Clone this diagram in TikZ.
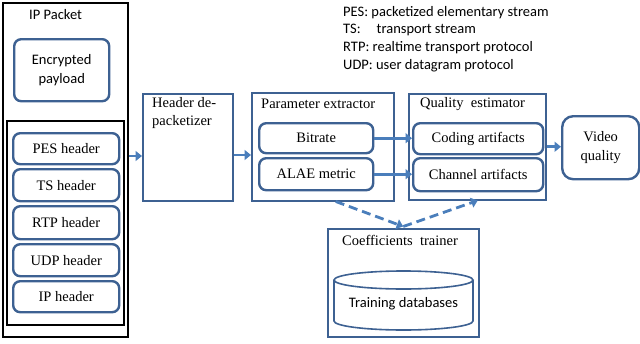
\documentclass[tikz,border=0pt]{standalone}
\usepackage{fontspec}
\setmainfont{Liberation Serif}
\newfontfamily\calib{Carlito}
\usetikzlibrary{arrows.meta}
\definecolor{bboxc}{HTML}{3D6192}
\definecolor{arrc}{HTML}{4A7EBB}
\begin{document}
\begin{tikzpicture}[x=1pt,y=-1pt,
  every node/.style={font=\fontsize{14.5}{17.6}\selectfont},
  blk/.style={draw=black, anchor=north west, inner sep=0pt},
  rbox/.style={draw=bboxc, line width=2.4pt, rounded corners=7pt, anchor=north west, inner sep=0pt, align=center},
  sbox/.style={draw=bboxc, line width=1.5pt, anchor=north west, inner sep=0pt},
  ttl/.style={anchor=west, inner sep=0pt, align=left},
  arr/.style={draw=arrc, line width=2.8pt, -{Triangle[length=6.5pt,width=10pt]}},
  darr/.style={draw=arrc, line width=2.8pt, dash pattern=on 9pt off 5pt, -{Triangle[length=6.5pt,width=10pt]}}]
\useasboundingbox (0,0) rectangle (640,343);
% IP packet
\node[blk, line width=1.5pt, minimum width=125pt, minimum height=334pt] (ippkt) at (2,2) {};
\node[anchor=west, inner sep=0pt, font=\calib\fontsize{14.5}{17.6}\selectfont] (ipttl) at (29,15) {IP Packet};
\node[rbox, minimum width=95pt, minimum height=62pt, font=\calib\fontsize{14.5}{19}\selectfont] (payload) at (13,38) {Encrypted\\payload};
\node[blk, line width=2pt, minimum width=117pt, minimum height=204pt] (hdrs) at (6,120) {};
\node[rbox, minimum width=106pt, minimum height=31pt] (pes) at (12,132) {PES header};
\node[rbox, minimum width=106pt, minimum height=32pt] (ts) at (12,168) {TS header};
\node[rbox, minimum width=106pt, minimum height=33pt] (rtp) at (12,205) {RTP header};
\node[rbox, minimum width=106pt, minimum height=32pt] (udp) at (12,243) {UDP header};
\node[rbox, minimum width=106pt, minimum height=31pt] (iph) at (12,280) {IP header};
% de-packetizer
\node[sbox, minimum width=90pt, minimum height=107pt] (depack) at (142,93) {};
\node[ttl, anchor=north west, font=\fontsize{14.5}{18}\selectfont] (depttl) at (152,97) {Header de-\\packetizer};
% parameter extractor
\node[sbox, minimum width=142pt, minimum height=108pt] (pext) at (251,92) {};
\node[ttl] (pextttl) at (261,104) {Parameter extractor};
\node[rbox, minimum width=114pt, minimum height=30pt] (bitrate) at (258,122) {Bitrate};
\node[rbox, minimum width=114pt, minimum height=32pt] (alae) at (258,157) {ALAE metric};
% quality estimator
\node[sbox, minimum width=137pt, minimum height=106pt] (qest) at (408,93) {};
\node[ttl] (qestttl) at (420,104) {Quality\ \ estimator};
\node[rbox, minimum width=130pt, minimum height=31pt] (coding) at (412,122) {Coding artifacts};
\node[rbox, minimum width=130pt, minimum height=33pt] (channel) at (412,157) {Channel artifacts};
% video quality
\node[rbox, rounded corners=11pt, minimum width=77pt, minimum height=63pt, font=\fontsize{14.5}{19}\selectfont] (vq) at (561,115) {Video\\quality};
% coefficients trainer
\node[sbox, minimum width=151pt, minimum height=108pt] (trainer) at (327,228) {};
\node[ttl] (trttl) at (342,240) {Coefficients\ \ trainer};
\begin{scope}[draw=bboxc, line width=1.6pt]
\draw (334,280) -- (334,321) arc[start angle=180, end angle=360, x radius=69.5pt, y radius=9pt] -- (473,280);
\draw (403.5,280) ellipse [x radius=69.5pt, y radius=9pt];
\end{scope}
\node[inner sep=0pt, font=\calib\fontsize{14.5}{17.6}\selectfont] (db) at (403.5,304) {Training databases};
% legend
\node[anchor=north west, inner sep=0pt, align=left, font=\calib\fontsize{14.5}{17.6}\selectfont] (legend) at (343,6)
  {PES: packetized elementary stream\\TS:\hspace{1.1em}transport stream\\RTP: realtime transport protocol\\UDP: user datagram protocol};
% connectors
\coordinate (a1) at (0,156);
\coordinate (a2) at (0,155);
\draw[arr] (ippkt.east |- a1) -- (depack.west |- a1);
\draw[arr] (depack.east |- a2) -- (pext.west |- a2);
\draw[arr] (bitrate.east) -- (coding.west |- bitrate.east);
\draw[arr] (alae.east) -- (channel.west |- alae.east);
\draw[arr] (qest.east) -- (vq.west |- qest.east);
\draw[darr] ([xshift=13pt]pext.south) -- ([yshift=1.5pt]trainer.north);
\draw[darr] ([yshift=1.5pt]trainer.north) -- ([xshift=0.5pt]qest.south);
\end{tikzpicture}
\end{document}
